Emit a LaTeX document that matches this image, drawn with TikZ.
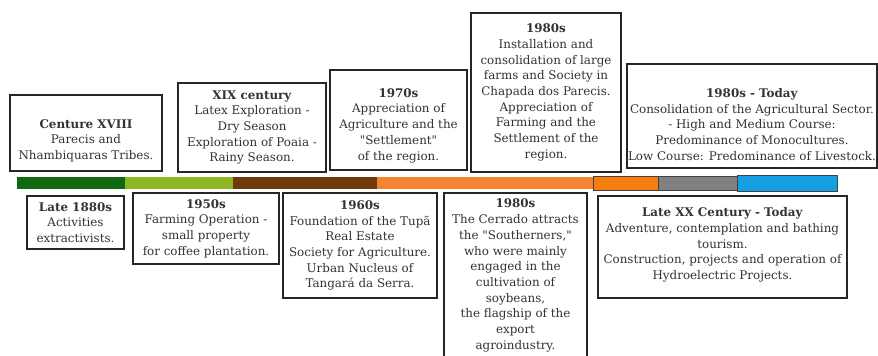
\documentclass[tikz,border=0pt]{standalone}
\usepackage{fontspec}
\setmainfont{DejaVu Serif}
\usepackage{tikz}
\usetikzlibrary{positioning}

\definecolor{darkgreen}{RGB}{16,104,16}
\definecolor{lightgreen}{RGB}{141,182,34}
\definecolor{rustbrown}{RGB}{112,58,12}
\definecolor{paleorange}{RGB}{244,132,52}
\definecolor{deeporange}{RGB}{246,126,14}
\definecolor{midgray}{RGB}{128,128,128}
\definecolor{skyblue}{RGB}{22,160,228}

\begin{document}
\begin{tikzpicture}[x=1pt, y=-1pt, erabox/.style={draw=black!85, line width=1.6pt, fill=white, align=center, inner sep=1pt, text=black!80, font=\fontsize{11.9}{15.7}\selectfont}]
    \useasboundingbox (0,0) rectangle (878,356);

    %Bar
    \fill[darkgreen] (17,177) rectangle (125,189);
    \fill[lightgreen] (125,177) rectangle (233,189);
    \fill[rustbrown] (233,177) rectangle (377,189);
    \fill[paleorange] (377,177) rectangle (593,189);
    \draw[fill=deeporange, draw=black!75] (593,176) rectangle (658,190);
    \draw[fill=midgray, draw=black!75] (658,176) rectangle (737,190);
    \draw[fill=skyblue, draw=black!75] (737,175) rectangle (837,191);

    %Top boxes
    \node[erabox, minimum width=152pt, minimum height=76pt](c18) at (86,133){\rule{0pt}{24pt}\textbf{Centure XVIII}\\Parecis and\\Nhambiquaras Tribes.};
    \node[erabox, minimum width=148pt, minimum height=89pt](c19) at (252,127.5){\textbf{XIX century}\\Latex Exploration -\\Dry Season\\Exploration of Poaia -\\Rainy Season.};
    \node[erabox, minimum width=137pt, minimum height=100pt](s70) at (398.5,120){\rule{0pt}{20pt}\textbf{1970s}\\Appreciation of\\Agriculture and the\\\textquotedbl Settlement\textquotedbl\\of the region.};
    \node[erabox, minimum width=150pt, minimum height=159pt](s80top) at (546,92.5){\textbf{1980s}\\Installation and\\consolidation of large\\farms and Society in\\Chapada dos Parecis.\\Appreciation of\\Farming and the\\Settlement of the\\region.};
    \node[erabox, minimum width=248pt, minimum height=104pt](today) at (752,116){\rule{0pt}{26pt}\textbf{1980s - Today}\\Consolidation of the Agricultural Sector.\\- High and Medium Course:\\Predominance of Monocultures.\\Low Course: Predominance of Livestock.};

    %Bottom boxes
    \node[erabox, minimum width=97pt, minimum height=53pt](l1880) at (75.5,222.5){\textbf{Late 1880s}\\Activities\\extractivists.};
    \node[erabox, minimum width=146pt, minimum height=71pt](s50) at (206,228.5){\textbf{1950s}\\Farming Operation -\\small property\\for coffee plantation.};
    \node[erabox, minimum width=154pt, minimum height=105pt](s60) at (360,245.5){\textbf{1960s}\\Foundation of the Tupã\\Real Estate\\Society for Agriculture.\\Urban Nucleus of\\Tangará da Serra.};
    \node[erabox, minimum width=143pt, minimum height=165pt](s80bot) at (515.5,275.5){\textbf{1980s}\\The Cerrado attracts\\the \textquotedbl Southerners,\textquotedbl\\who were mainly\\engaged in the\\cultivation of\\soybeans,\\the flagship of the\\export\\agroindustry.};
    \node[erabox, minimum width=249pt, minimum height=102pt](l20) at (722.5,247){\textbf{Late XX Century - Today}\\Adventure, contemplation and bathing\\tourism.\\Construction, projects and operation of\\Hydroelectric Projects.\rule[-7pt]{0pt}{7pt}};

\end{tikzpicture}
\end{document}
